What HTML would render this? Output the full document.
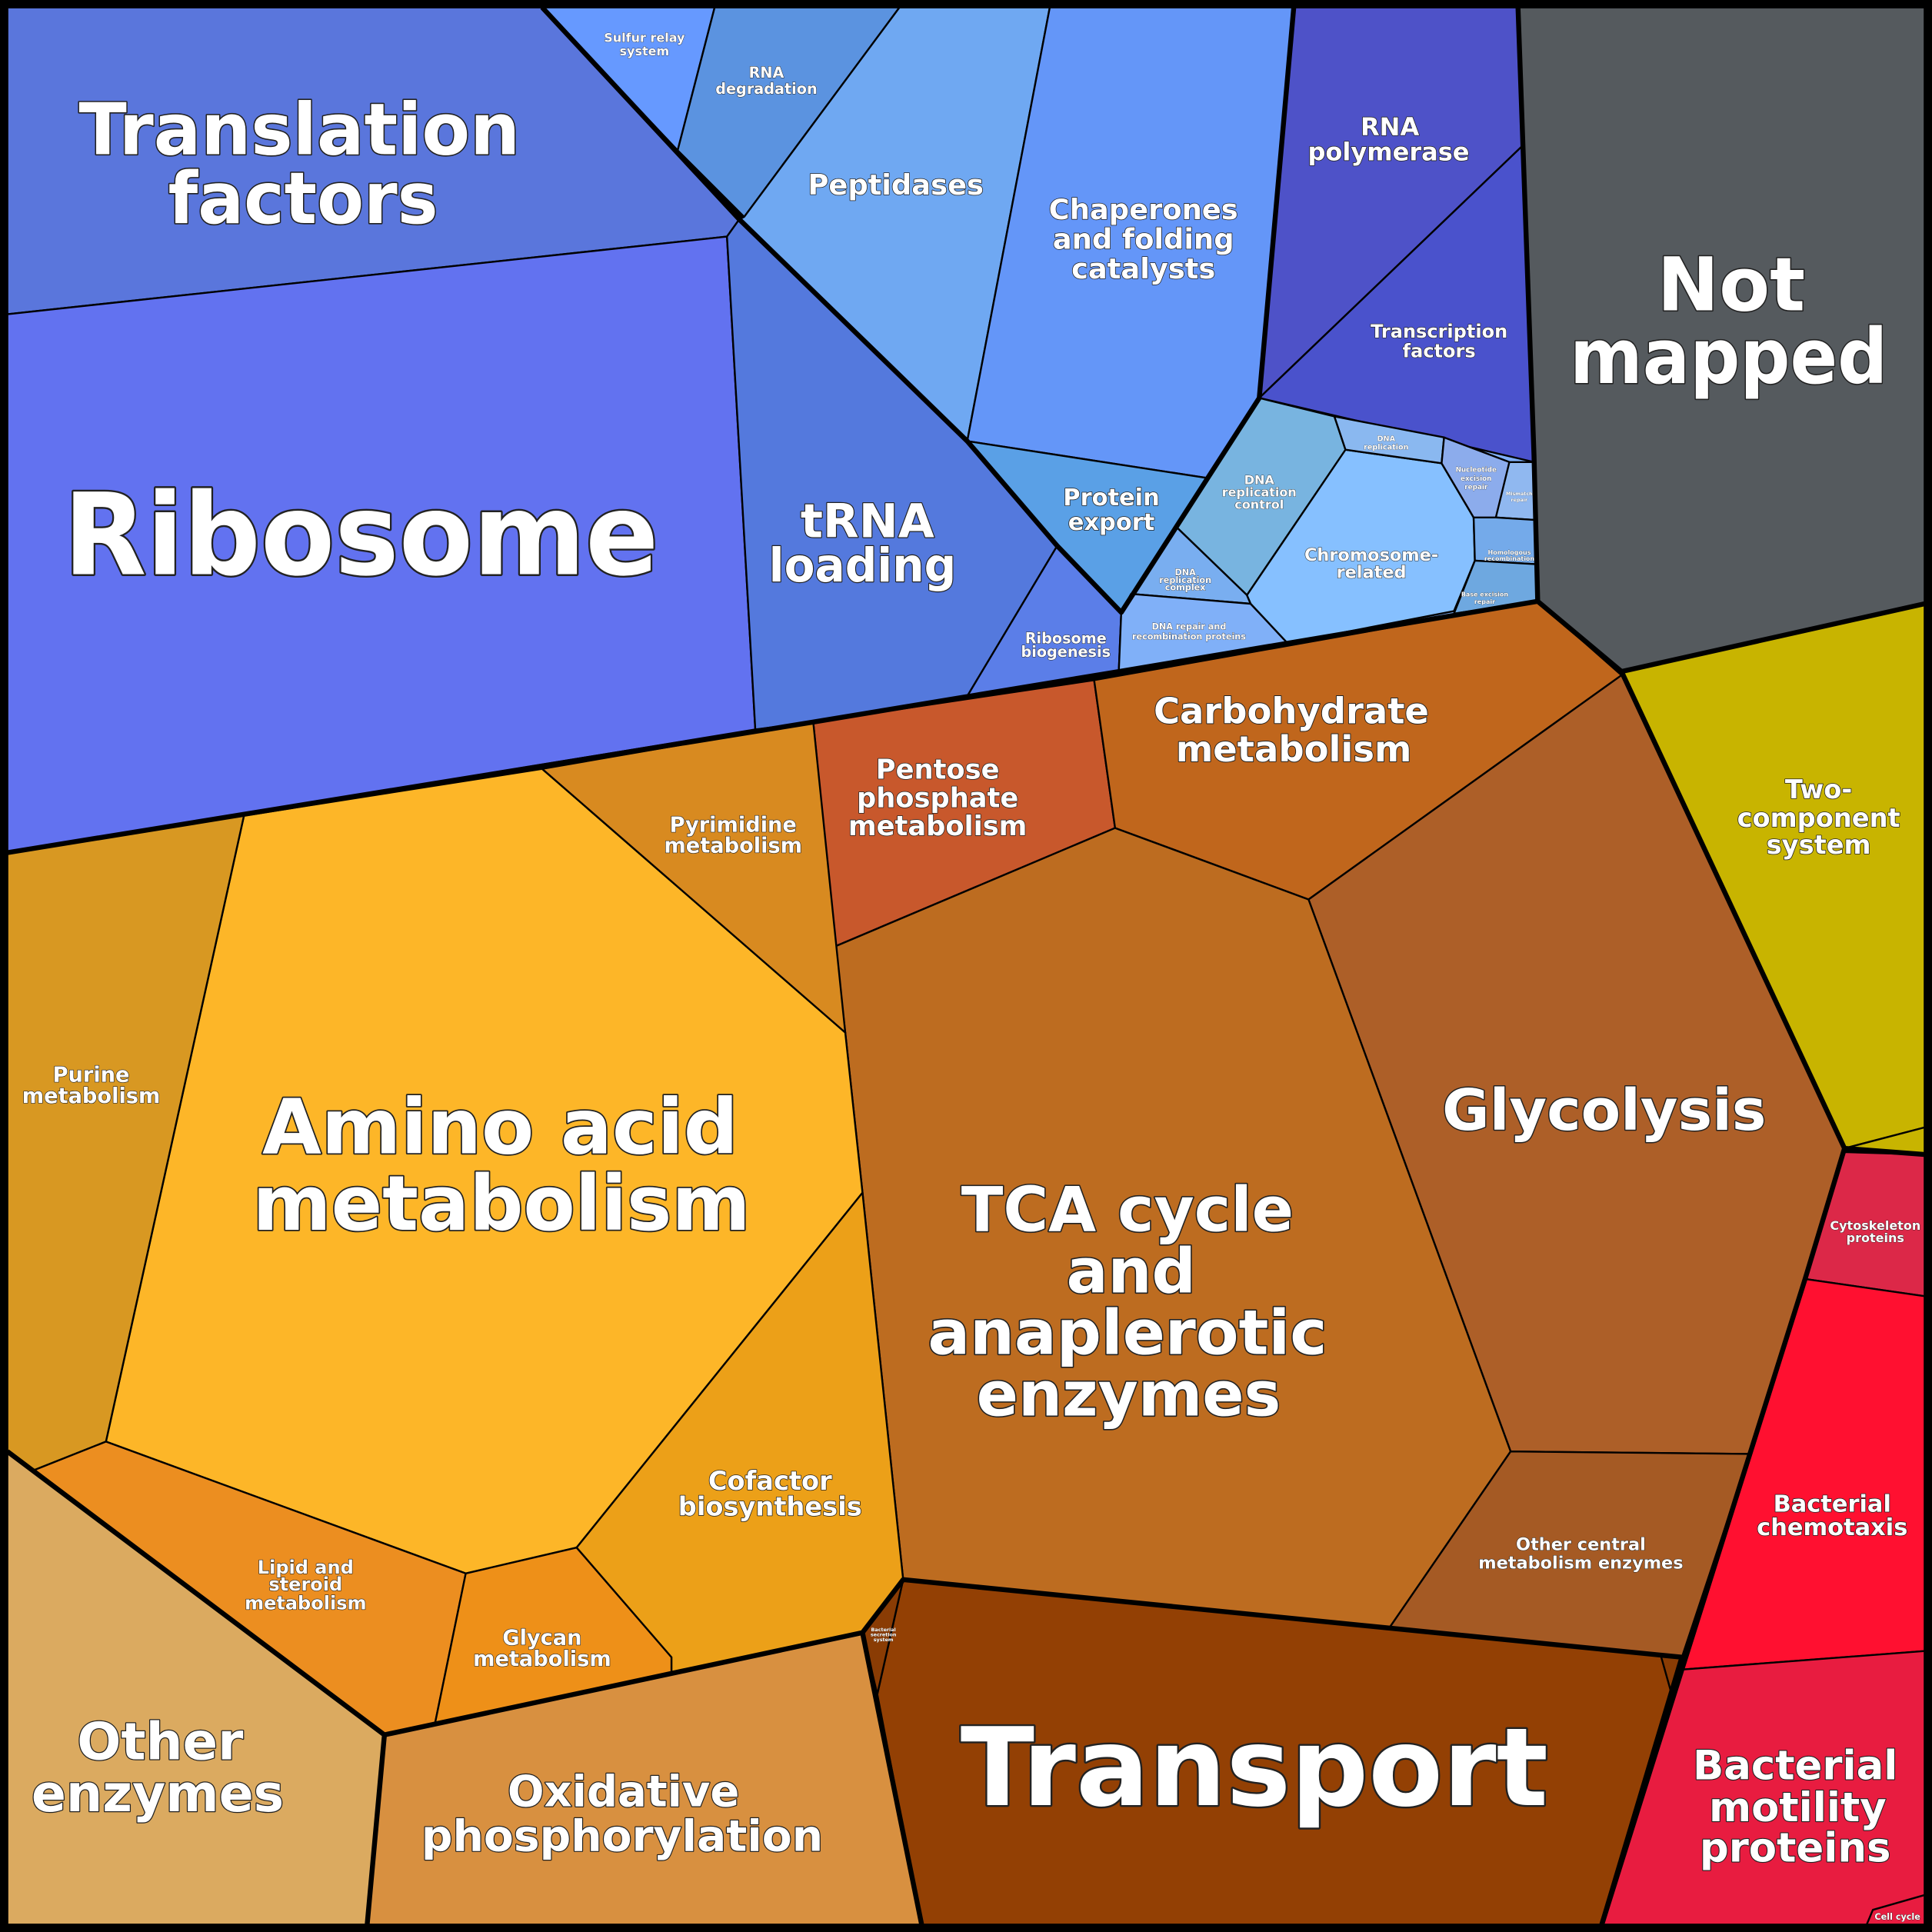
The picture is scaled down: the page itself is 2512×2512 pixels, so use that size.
<!DOCTYPE html>
<html><head><meta charset="utf-8"><style>
html,body{margin:0;padding:0;background:#000;}
svg{display:block}
text{font-family:"DejaVu Sans","Liberation Sans",sans-serif;font-weight:bold;fill:#fff;text-anchor:middle;paint-order:stroke;stroke:#222;stroke-linejoin:round}
</style></head><body>
<svg width="2512" height="2512" viewBox="0 0 1568 1568" xmlns="http://www.w3.org/2000/svg">
<rect x="0" y="0" width="1568" height="1568" fill="#000"/>
<g stroke="none">
<polygon fill="#80b0f8" points="908,545 1248,488 1245,370 1022,323 910,497"/>
</g>
<g stroke="#000" stroke-width="1.5" stroke-linejoin="round">
<polygon fill="#5a76dc" points="6,6 440,6 600,178 590,192 6,255"/>
<polygon fill="#6272f0" points="6,255 590,192 613,592 6,692"/>
<polygon fill="#5479dd" points="590,192 600,178 785,358 858,443 785,565 660,586 613,592"/>
<polygon fill="#5b7ee8" points="858,443 910,497 908,545 785,565"/>
<polygon fill="#6699ff" points="440,6 580,6 550,122"/>
<polygon fill="#5b93e0" points="580,6 730,6 604,176 550,122"/>
<polygon fill="#6fa8f2" points="730,6 852,6 785,358 600,178 604,176"/>
<polygon fill="#6496f8" points="852,6 1050,6 1022,323 980,388 785,358"/>
<polygon fill="#5aa0e6" points="785,358 980,388 955,428 910,497 858,443"/>
<polygon fill="#4e52c8" points="1050,6 1232,6 1236,118 1022,323"/>
<polygon fill="#4a52cc" points="1236,118 1245,375 1022,323"/>
<polygon fill="#78b4e0" points="1022,323 1083,338 1092,365 1012,483 955,428"/>
<polygon fill="#79aef0" points="955,428 1012,483 1015,490 918,482 910,497"/>
<polygon fill="#80b0f8" points="918,482 1015,490 1045,522 908,545 910,497"/>
<polygon fill="#86c0ff" points="1092,365 1170,376 1196,420 1197,455 1180,496 1045,522 1015,490 1012,483"/>
<polygon fill="#8ab8f0" points="1083,338 1172,355 1170,376 1092,365"/>
<polygon fill="#8cacec" points="1172,355 1225,375 1214,428 1196,420 1170,376"/>
<polygon fill="#90b8f0" points="1225,375 1245,375 1246,422 1214,420"/>
<polygon fill="#74aaea" points="1196,420 1214,420 1246,422 1248,458 1197,455"/>
<polygon fill="#6ea8e0" points="1197,455 1248,458 1248,488 1180,498"/>
<polygon fill="#555a5e" points="1232,6 1562,6 1562,490 1316,545 1248,488 1245,370"/>
<polygon fill="#c8b400" points="1316,545 1562,490 1562,915 1497,932"/>
<polygon fill="#c8b400" points="1497,932 1562,915 1562,937"/>
<polygon fill="#dc2848" points="1497,935 1562,937 1562,1052 1465,1038"/>
<polygon fill="#ff1030" points="1465,1038 1562,1052 1562,1340 1365,1355"/>
<polygon fill="#e81c40" points="1365,1355 1562,1340 1562,1562 1300,1562"/>
<polygon fill="#e81c40" points="1520,1550 1562,1538 1562,1562 1515,1562"/>
<polygon fill="#c8582c" points="660,586 888,552 905,672 678,768"/>
<polygon fill="#c0661c" points="888,552 1248,488 1316,548 1062,730 905,672"/>
<polygon fill="#ad5f28" points="1316,548 1497,932 1420,1180 1226,1178 1062,730"/>
<polygon fill="#bd6c20" points="678,768 905,672 1062,730 1226,1178 1127,1322 733,1282 700,968 686,838"/>
<polygon fill="#a55a24" points="1226,1178 1420,1180 1365,1345 1127,1322"/>
<polygon fill="#fdb628" points="198,662 440,624 686,838 700,968 468,1256 378,1277 86,1170"/>
<polygon fill="#d88a20" points="440,624 660,586 686,838"/>
<polygon fill="#d89822" points="6,692 198,662 86,1170 28,1193 6,1178"/>
<polygon fill="#ec8e20" points="28,1193 86,1170 378,1277 353,1399 312,1408"/>
<polygon fill="#ee9018" points="378,1277 468,1256 545,1345 545,1358 353,1399"/>
<polygon fill="#eca018" points="468,1256 700,968 733,1282 700,1325 545,1358 545,1345"/>
<polygon fill="#dbaa60" points="6,1178 312,1408 298,1562 6,1562"/>
<polygon fill="#d89040" points="312,1408 700,1325 748,1562 298,1562"/>
<polygon fill="#934004" points="733,1282 1365,1345 1300,1562 748,1562 712,1375"/>
<polygon fill="#8a3c04" points="1348,1344 1365,1345 1357,1376"/>
<polygon fill="#8a3c04" points="700,1325 733,1282 712,1375"/>
</g>
<g fill="none" stroke="#000" stroke-width="4" stroke-linejoin="round">
<polyline points="6,692 660,586 908,545 1248,488"/>
<polyline points="440,6 600,178 785,358 858,443 910,497 1022,323 1050,6"/>
<polyline points="1232,6 1245,370 1248,488 1316,545 1562,490"/>
<polyline points="1316,545 1497,932 1465,1038 1365,1355 1300,1562"/>
<polyline points="1497,932 1562,937"/>
<polyline points="6,1178 312,1408 298,1562"/>
<polyline points="312,1408 700,1325 733,1282 1365,1345 1300,1562"/>
<polyline points="700,1325 748,1562"/>
<rect x="3" y="3" width="1562" height="1562" stroke-width="7"/>
</g>
<text font-size="58" stroke-width="2" x="243" y="125" textLength="358" lengthAdjust="spacingAndGlyphs">Translation</text>
<text font-size="58" stroke-width="2" x="246" y="181" textLength="219" lengthAdjust="spacingAndGlyphs">factors</text>
<text font-size="92" stroke-width="3" x="293" y="466" textLength="483" lengthAdjust="spacingAndGlyphs">Ribosome</text>
<text font-size="38" stroke-width="1.5" x="704" y="436">tRNA</text>
<text font-size="38" stroke-width="1.5" x="700" y="472" textLength="152" lengthAdjust="spacingAndGlyphs">loading</text>
<text font-size="23" stroke-width="1" x="727" y="158">Peptidases</text>
<text font-size="23" stroke-width="1" x="928" y="178">Chaperones</text>
<text font-size="23" stroke-width="1" x="928" y="202">and folding</text>
<text font-size="23" stroke-width="1" x="928" y="226">catalysts</text>
<text font-size="20" stroke-width="1" x="1128" y="110">RNA</text>
<text font-size="20" stroke-width="1" x="1127" y="130">polymerase</text>
<text font-size="15" stroke-width="0.8" x="1168" y="274">Transcription</text>
<text font-size="15" stroke-width="0.8" x="1168" y="290">factors</text>
<text font-size="60" stroke-width="2" x="1405" y="252">Not</text>
<text font-size="62" stroke-width="2" x="1403" y="311" textLength="258" lengthAdjust="spacingAndGlyphs">mapped</text>
<text font-size="19" stroke-width="1" x="902" y="410">Protein</text>
<text font-size="19" stroke-width="1" x="902" y="430">export</text>
<text font-size="12" stroke-width="0.6" x="865" y="522">Ribosome</text>
<text font-size="12" stroke-width="0.6" x="865" y="533">biogenesis</text>
<text font-size="10" stroke-width="0.5" x="523" y="34">Sulfur relay</text>
<text font-size="10" stroke-width="0.5" x="523" y="45">system</text>
<text font-size="12" stroke-width="0.6" x="622" y="63">RNA</text>
<text font-size="12" stroke-width="0.6" x="622" y="76">degradation</text>
<text font-size="10" stroke-width="0.5" x="1022" y="393">DNA</text>
<text font-size="10" stroke-width="0.5" x="1022" y="403">replication</text>
<text font-size="10" stroke-width="0.5" x="1022" y="413">control</text>
<text font-size="14" stroke-width="0.7" x="1113" y="455">Chromosome-</text>
<text font-size="14" stroke-width="0.7" x="1113" y="469">related</text>
<text font-size="6" stroke-width="0.3" x="1125" y="358">DNA</text>
<text font-size="6" stroke-width="0.3" x="1125" y="365">replication</text>
<text font-size="5.5" stroke-width="0.3" x="1198" y="383">Nucleotide</text>
<text font-size="5.5" stroke-width="0.3" x="1198" y="390">excision</text>
<text font-size="5.5" stroke-width="0.3" x="1198" y="397">repair</text>
<text font-size="4" stroke-width="0.2" x="1233" y="402">Mismatch</text>
<text font-size="4" stroke-width="0.2" x="1233" y="407">repair</text>
<text font-size="5" stroke-width="0.3" x="1225" y="450">Homologous</text>
<text font-size="5" stroke-width="0.3" x="1225" y="455">recombination</text>
<text font-size="5" stroke-width="0.3" x="1205" y="484">Base excision</text>
<text font-size="5" stroke-width="0.3" x="1205" y="490">repair</text>
<text font-size="7" stroke-width="0.4" x="962" y="467">DNA</text>
<text font-size="7" stroke-width="0.4" x="962" y="473">replication</text>
<text font-size="7" stroke-width="0.4" x="962" y="479">complex</text>
<text font-size="7" stroke-width="0.4" x="965" y="511">DNA repair and</text>
<text font-size="7" stroke-width="0.4" x="965" y="519">recombination proteins</text>
<text font-size="22" stroke-width="1" x="761" y="632">Pentose</text>
<text font-size="22" stroke-width="1" x="761" y="655">phosphate</text>
<text font-size="22" stroke-width="1" x="761" y="678">metabolism</text>
<text font-size="29" stroke-width="1.2" x="1048" y="587">Carbohydrate</text>
<text font-size="29" stroke-width="1.2" x="1050" y="618">metabolism</text>
<text font-size="46" stroke-width="1.8" x="1302" y="917" textLength="263" lengthAdjust="spacingAndGlyphs">Glycolysis</text>
<text font-size="50" stroke-width="2" x="915" y="999">TCA cycle</text>
<text font-size="50" stroke-width="2" x="918" y="1049">and</text>
<text font-size="50" stroke-width="2" x="915" y="1099" textLength="324" lengthAdjust="spacingAndGlyphs">anaplerotic</text>
<text font-size="50" stroke-width="2" x="916" y="1149">enzymes</text>
<text font-size="14" stroke-width="0.7" x="1283" y="1258">Other central</text>
<text font-size="14" stroke-width="0.7" x="1283" y="1273">metabolism enzymes</text>
<text font-size="21" stroke-width="1" x="1476" y="648">Two-</text>
<text font-size="21" stroke-width="1" x="1476" y="671">component</text>
<text font-size="21" stroke-width="1" x="1476" y="693">system</text>
<text font-size="10" stroke-width="0.5" x="1522" y="998">Cytoskeleton</text>
<text font-size="10" stroke-width="0.5" x="1522" y="1008">proteins</text>
<text font-size="19" stroke-width="1" x="1487" y="1227">Bacterial</text>
<text font-size="19" stroke-width="1" x="1487" y="1246">chemotaxis</text>
<text font-size="33" stroke-width="1.4" x="1457" y="1444">Bacterial</text>
<text font-size="33" stroke-width="1.4" x="1459" y="1478">motility</text>
<text font-size="33" stroke-width="1.4" x="1457" y="1511">proteins</text>
<text font-size="7" stroke-width="0.4" x="1540" y="1558">Cell cycle</text>
<text font-size="88" stroke-width="3" x="1018" y="1465" textLength="477" lengthAdjust="spacingAndGlyphs">Transport</text>
<text font-size="35" stroke-width="1.5" x="506" y="1466">Oxidative</text>
<text font-size="35" stroke-width="1.5" x="505" y="1502" textLength="326" lengthAdjust="spacingAndGlyphs">phosphorylation</text>
<text font-size="42" stroke-width="1.6" x="130" y="1428">Other</text>
<text font-size="42" stroke-width="1.6" x="128" y="1470" textLength="205" lengthAdjust="spacingAndGlyphs">enzymes</text>
<text font-size="17" stroke-width="0.8" x="440" y="1335">Glycan</text>
<text font-size="17" stroke-width="0.8" x="440" y="1352">metabolism</text>
<text font-size="15" stroke-width="0.8" x="248" y="1277">Lipid and</text>
<text font-size="15" stroke-width="0.8" x="248" y="1291">steroid</text>
<text font-size="15" stroke-width="0.8" x="248" y="1306">metabolism</text>
<text font-size="21" stroke-width="1" x="625" y="1209">Cofactor</text>
<text font-size="21" stroke-width="1" x="625" y="1230">biosynthesis</text>
<text font-size="62" stroke-width="2.2" x="406" y="936">Amino acid</text>
<text font-size="62" stroke-width="2.2" x="407" y="998" textLength="404" lengthAdjust="spacingAndGlyphs">metabolism</text>
<text font-size="17" stroke-width="0.8" x="74" y="878">Purine</text>
<text font-size="17" stroke-width="0.8" x="74" y="895">metabolism</text>
<text font-size="17" stroke-width="0.8" x="595" y="675">Pyrimidine</text>
<text font-size="17" stroke-width="0.8" x="595" y="692">metabolism</text>
<text font-size="4" stroke-width="0.2" x="717" y="1324">Bacterial</text>
<text font-size="4" stroke-width="0.2" x="717" y="1328">secretion</text>
<text font-size="4" stroke-width="0.2" x="717" y="1332">system</text>
</svg>
</body></html>
